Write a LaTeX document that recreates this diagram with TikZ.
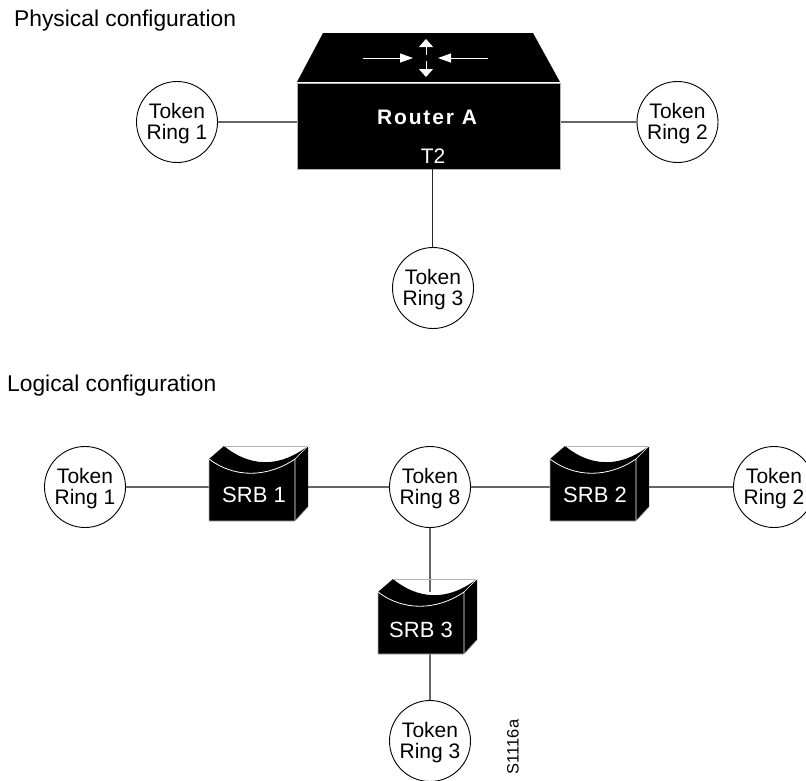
\documentclass[tikz,border=0pt]{standalone}
\usepackage{fontspec}
\setmainfont{Liberation Sans}
\usetikzlibrary{arrows.meta}
\newcommand{\ringstrut}{\rule{0pt}{18.5pt}}
\tikzset{
  x=1pt,y=-1pt,
  ring/.style={circle,draw=black,line width=0.9pt,fill=white,minimum size=81pt,inner sep=0pt,align=center,font=\fontsize{21}{21.5}\selectfont},
  wire/.style={draw=black!60,line width=1.2pt},
  stem/.style={draw=black!85,line width=1pt},
  label/.style={font=\fontsize{22.8}{26}\selectfont,anchor=base west,inner sep=0pt},
  srbfront/.style={minimum width=86pt,minimum height=62pt,inner sep=0pt,anchor=north west},
  srbtext/.style={text=white,font=\fontsize{22}{26}\selectfont,inner sep=0pt},
  harrow/.style={draw=white,line width=0.9pt,-{Stealth[length=13pt,width=9pt,inset=0pt]}},
  varrow/.style={draw=white,line width=0.9pt,-{Stealth[length=8pt,width=14pt,inset=0pt]}},
  routertext/.style={text=white,inner sep=0pt},
}
\newcommand{\srbbody}[2]{%
  \begin{scope}[shift={(#1,#2)}]
    \fill[black] (0,0) -- (15,-13) .. controls (32,1) and (62,15) .. (99,-13) -- (99,48) -- (86,62) -- (0,62) -- cycle;
    \draw[black!30,line width=0.6pt] (15,-13) -- (99,-13);
    \draw[white,line width=0.8pt] (0,0) .. controls (25,19) and (58,19) .. (86,0) -- (86,62);
    \draw[black!30,line width=0.6pt] (0,0) -- (0,62) -- (86,62) -- (99,48);
    \draw[white,line width=0.6pt] (86,0) -- (99,-13);
  \end{scope}}
\begin{document}
\begin{tikzpicture}
\useasboundingbox (0,0) rectangle (806,780);
\node[label] (phys) at (14,26) {Physical configuration};
\node[label] (logi) at (7,391) {Logical configuration};
\node[ring] (p1) at (177,122) {\ringstrut Token\\Ring 1};
\node[ring] (p2) at (677.5,122) {\ringstrut Token\\Ring 2};
\node[ring] (p3) at (433,288) {\ringstrut Token\\Ring 3};
\node[ring] (l1) at (85,487) {\ringstrut Token\\Ring 1};
\node[ring] (l8) at (430,487) {\ringstrut Token\\Ring 8};
\node[ring] (l2) at (774,487) {\ringstrut Token\\Ring 2};
\node[ring] (l3) at (430,741) {\ringstrut Token\\Ring 3};
% router
\node[minimum width=263pt,minimum height=86pt,inner sep=0pt,anchor=north west,fill=black,draw=black!30,line width=0.6pt] (ra) at (297,83) {};
\fill[black] (297,82) -- (323,33) -- (533,33) -- (560,82) -- cycle;
\draw[white,line width=0.8pt] (297,82) -- (560,82);
\draw[harrow] (363,58) -- (413,58);
\draw[harrow] (488,58) -- (438,58);
\draw[varrow] (426,55) -- (426,39);
\draw[varrow] (426,61) -- (426,77);
\node[routertext,font=\fontsize{21}{24}\selectfont\bfseries\addfontfeature{LetterSpace=9}] (ratext) at (427,117) {Router A};
\node[routertext,font=\fontsize{21}{24}\selectfont] (t2text) at (433,156) {T2};
\coordinate (t2) at (432,169);
\draw[wire] (p1) -- (p1-|ra.west);
\draw[wire] (p2) -- (p2-|ra.east);
\draw[stem] (t2) -- (t2|-p3.north);
% logical
\node[srbfront] (s1) at (209,459) {};
\node[srbfront] (s2) at (550,459) {};
\node[srbfront] (s3) at (378,592) {};
\draw[wire] (l1) -- (l1-|s1.west);
\draw[wire] (l8) -- (l8-|s1.east);
\draw[wire] (l8) -- (l8-|s2.west);
\draw[wire] (l2) -- (l2-|s2.east);
\draw[wire] (l8.south) -- (l8.south|-s3.north);
\draw[wire] (l3.north) -- (l3.north|-s3.south);
\srbbody{209}{459}
\srbbody{550}{459}
\srbbody{378}{592}
\node[srbtext] at (254,495) {SRB 1};
\node[srbtext] at (595,495) {SRB 2};
\node[srbtext] at (421,630) {SRB 3};
\node[rotate=90,inner sep=0pt,font=\fontsize{16.5}{18}\selectfont] (code) at (513,747) {S1116a};
\end{tikzpicture}
\end{document}
